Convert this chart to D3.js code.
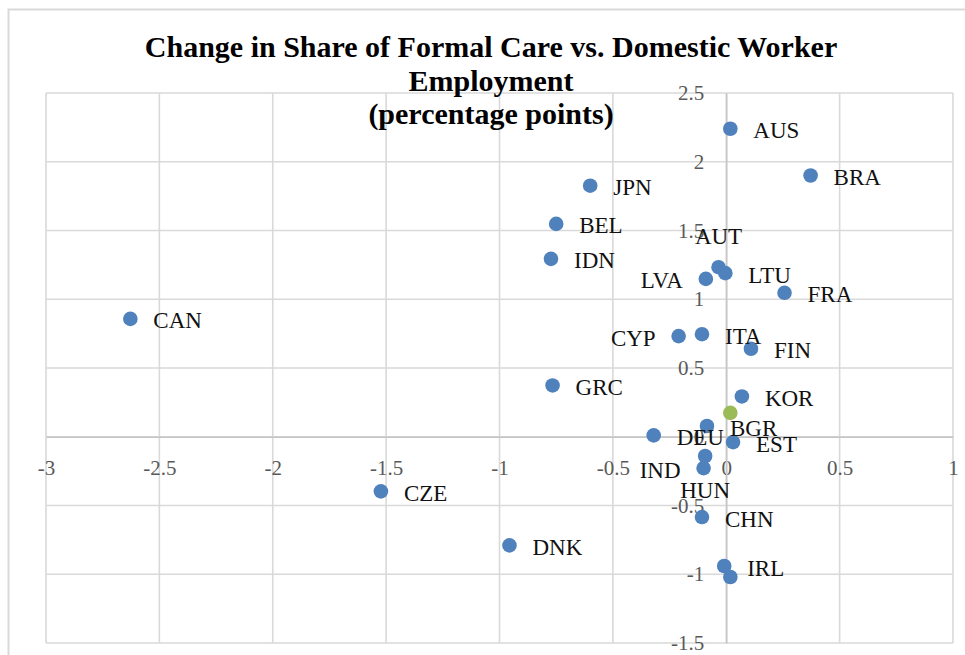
<!DOCTYPE html>
<html lang="en">
<head>
  <meta charset="UTF-8">
  <title>Formal Care vs Domestic Worker Employment</title>
  <script src="https://d3js.org/d3.v7.min.js"></script>
  <style>
    body {
      margin: 0;
      background: #fff;
    }
    svg {
      display: block;
    }
    .tick text {
      font-family: "Liberation Serif", serif;
      font-size: 21px;
      fill: #595959;
    }
    .label {
      font-family: "Liberation Serif", serif;
      font-size: 23px;
      fill: #111;
    }
    .title {
      font-family: "Liberation Serif", serif;
      font-size: 30px;
      font-weight: bold;
      fill: #000;
    }
  </style>
</head>
<body>

<svg width="965" height="655"></svg>

<script>
  // country codes and their values (x = left axis series, y = vertical)
  const countries = ["AUS", "BRA", "JPN", "BEL", "IDN", "AUT", "LTU", "LVA", "FRA", "CAN",
                     "CYP", "ITA", "FIN", "GRC", "KOR", "BGR", "DEU", "EST", "HUN", "IND",
                     "CZE", "CHN", "DNK", "IRL", ""];
  const xValues = [0.018, 0.372, -0.60, -0.75, -0.773, -0.034, -0.004, -0.09, 0.257, -2.628,
                   -0.21, -0.107, 0.109, -0.766, 0.069, -0.085, -0.32, 0.03, -0.093, -0.10,
                   -1.523, -0.107, -0.956, -0.009, 0.018];
  const yValues = [2.24, 1.90, 1.826, 1.548, 1.294, 1.233, 1.19, 1.148, 1.047, 0.857,
                   0.732, 0.746, 0.64, 0.373, 0.293, 0.078, 0.01, -0.039, -0.14, -0.228,
                   -0.397, -0.584, -0.79, -0.94, -1.02];

  // second (green) series
  const greenX = [0.018];
  const greenY = [0.174];

  const xTicks = [-3, -2.5, -2, -1.5, -1, -0.5, 0, 0.5, 1];
  const yTicks = [-1.5, -1, -0.5, 0, 0.5, 1, 1.5, 2, 2.5];

  const titleLines = ["Change in Share of Formal Care vs. Domestic Worker",
                      "Employment",
                      "(percentage points)"];

  // labels that were moved off the default right-hand position
  const labelSide = { AUT: "above", HUN: "below", LVA: "left", CYP: "left", IND: "left" };

  const svg = d3.select("svg");

  const x = d3.scaleLinear().domain([-3, 1]).range([46, 953]);
  const y = d3.scaleLinear().domain([-1.5, 2.5]).range([643, 93]);

  // outer chart frame (runs off the right/bottom edge)
  svg.append("rect")
    .attr("x", 8.5).attr("y", 9.5)
    .attr("width", 1000).attr("height", 700)
    .attr("fill", "#fff")
    .attr("stroke", "#d9d9d9")
    .attr("stroke-width", 2);

  // gridlines
  const grid = svg.append("g");
  grid.selectAll("line.v")
    .data(xTicks)
    .enter()
    .append("line")
    .attr("x1", d => x(d)).attr("x2", d => x(d))
    .attr("y1", y(2.5)).attr("y2", y(-1.5))
    .attr("stroke", "#d9d9d9")
    .attr("stroke-width", 1.6);
  grid.selectAll("line.h")
    .data(yTicks)
    .enter()
    .append("line")
    .attr("x1", x(-3)).attr("x2", x(1))
    .attr("y1", d => y(d)).attr("y2", d => y(d))
    .attr("stroke", "#d9d9d9")
    .attr("stroke-width", 1.6);

  // axes crossing at zero
  const xAxis = svg.append("g")
    .attr("transform", `translate(0,${y(0)})`)
    .call(d3.axisBottom(x).tickValues(xTicks).tickSize(0).tickSizeOuter(0).tickPadding(23)
      .tickFormat(d3.format("")));
  const yAxis = svg.append("g")
    .attr("transform", `translate(${x(0)},0)`)
    .call(d3.axisLeft(y).tickValues(yTicks).tickSize(0).tickSizeOuter(0).tickPadding(22)
      .tickFormat(d3.format("")));
  [xAxis, yAxis].forEach(a => {
    a.select(".domain").attr("stroke", "#c6c6c6").attr("stroke-width", 1.6);
    a.selectAll("text").text(d => String(d).replace("-", "-"));
  });

  const points = countries.map((c, i) => ({ c, x: xValues[i], y: yValues[i] }));

  // markers
  svg.append("g").selectAll("circle")
    .data(points)
    .enter()
    .append("circle")
    .attr("cx", d => x(d.x))
    .attr("cy", d => y(d.y))
    .attr("r", 7.3)
    .attr("fill", "#4f81bd");

  svg.append("g").selectAll("circle")
    .data(greenX.map((v, i) => ({ x: v, y: greenY[i] })))
    .enter()
    .append("circle")
    .attr("cx", d => x(d.x))
    .attr("cy", d => y(d.y))
    .attr("r", 7.3)
    .attr("fill", "#9bbb59");

  // data labels
  svg.append("g").selectAll("text")
    .data(points.filter(d => d.c))
    .enter()
    .append("text")
    .attr("class", "label")
    .attr("x", d => {
      const side = labelSide[d.c] || "right";
      if (side === "right") return x(d.x) + 23;
      if (side === "left") return x(d.x) - 23;
      return x(d.x);
    })
    .attr("y", d => {
      const side = labelSide[d.c];
      if (side === "above") return y(d.y) - 31;
      if (side === "below") return y(d.y) + 34;
      return y(d.y) + 2;
    })
    .attr("text-anchor", d => {
      const side = labelSide[d.c] || "right";
      return side === "right" ? "start" : side === "left" ? "end" : "middle";
    })
    .attr("dominant-baseline", "central")
    .text(d => d.c);

  // title
  svg.append("text")
    .attr("class", "title")
    .attr("text-anchor", "middle")
    .selectAll("tspan")
    .data(titleLines)
    .enter()
    .append("tspan")
    .attr("x", 491)
    .attr("y", (_, i) => 57 + i * 33.5)
    .text(d => d);
</script>

</body>
</html>
